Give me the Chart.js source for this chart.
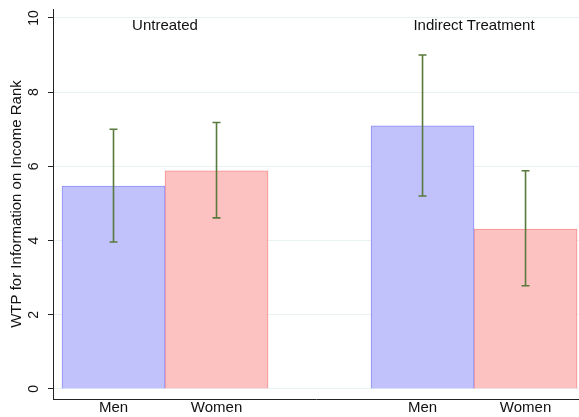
<!DOCTYPE html>
<html>
<head>
<meta charset="utf-8">
<script src="https://cdn.jsdelivr.net/npm/chart.js@4/dist/chart.umd.min.js"></script>
<style>
  html, body { margin: 0; padding: 0; background: #ffffff; }
  #wrap { width: 579px; height: 417px; }
</style>
</head>
<body>
<div id="wrap"><canvas id="c" width="579" height="417"></canvas></div>
<script>
// Groups and the bar slots they occupy on the x axis
const groups = ['Untreated', 'Indirect Treatment'];
const groupCenters = [1.5, 4.5];
const menSlots = [1, 4];
const womenSlots = [2, 5];
const tickLabels = { 1: 'Men', 2: 'Women', 4: 'Men', 5: 'Women' };
const yTicks = [0, 2, 4, 6, 8, 10];

// Mean WTP per group, with confidence interval bounds
const menMeans = [5.47, 7.09];
const menLow = [3.96, 5.20];
const menHigh = [7.00, 9.00];
const womenMeans = [5.88, 4.31];
const womenLow = [4.61, 2.78];
const womenHigh = [7.18, 5.88];

const font = 'Arial, "Liberation Sans", sans-serif';

// Capped interval lines over each bar
const ciPlugin = {
  id: 'ciBars',
  afterDatasetsDraw(chart) {
    const { ctx, scales: { x, y } } = chart;
    const draw = (slots, lows, highs) => {
      slots.forEach((s, i) => {
        const px = x.getPixelForValue(s);
        const y1 = y.getPixelForValue(lows[i]);
        const y2 = y.getPixelForValue(highs[i]);
        ctx.save();
        ctx.strokeStyle = '#587a3c';
        ctx.lineWidth = 1.6;
        ctx.beginPath();
        ctx.moveTo(px, y1); ctx.lineTo(px, y2);
        ctx.moveTo(px - 4, y1); ctx.lineTo(px + 4, y1);
        ctx.moveTo(px - 4, y2); ctx.lineTo(px + 4, y2);
        ctx.stroke();
        ctx.restore();
      });
    };
    draw(menSlots, menLow, menHigh);
    draw(womenSlots, womenLow, womenHigh);
  }
};

// Group names written inside the plot, above each pair of bars
const groupLabelPlugin = {
  id: 'groupLabels',
  afterDraw(chart) {
    const { ctx, chartArea, scales: { x } } = chart;
    ctx.save();
    ctx.fillStyle = '#111111';
    ctx.font = '15px ' + font;
    ctx.textAlign = 'center';
    ctx.textBaseline = 'middle';
    groups.forEach((g, i) => {
      ctx.fillText(g, x.getPixelForValue(groupCenters[i]), chartArea.top + 17);
    });
    ctx.restore();
  }
};

new Chart(document.getElementById('c'), {
  type: 'bar',
  data: {
    datasets: [
      {
        label: 'Men',
        data: menSlots.map((s, i) => ({ x: s, y: menMeans[i] })),
        backgroundColor: 'rgba(193,193,251,1)',
        borderColor: 'rgba(140,140,246,1)',
        borderWidth: 1
      },
      {
        label: 'Women',
        data: womenSlots.map((s, i) => ({ x: s, y: womenMeans[i] })),
        backgroundColor: 'rgba(252,193,193,1)',
        borderColor: 'rgba(246,142,142,1)',
        borderWidth: 1
      }
    ]
  },
  options: {
    responsive: false,
    animation: false,
    grouped: false,
    categoryPercentage: 1,
    barPercentage: 1,
    layout: { padding: { top: 9, right: 0, bottom: 0, left: 0 } },
    plugins: { legend: { display: false }, tooltip: { enabled: false } },
    scales: {
      x: {
        type: 'linear',
        offset: false,
        min: 0.4126,
        max: 5.519,
        afterBuildTicks(scale) {
          scale.ticks = Object.keys(tickLabels).map(v => ({ value: Number(v) }));
        },
        afterFit(scale) {
          scale.height = 18;
          scale.paddingLeft = 0;
          scale.paddingRight = 0;
        },
        grid: { display: false, drawTicks: false },
        border: { display: true, color: '#222222', width: 1 },
        ticks: {
          padding: 0,
          color: '#111111',
          font: { family: font, size: 15 },
          maxRotation: 0,
          autoSkip: false,
          callback: v => tickLabels[v] || ''
        }
      },
      y: {
        min: -0.27,
        max: 10.24,
        afterBuildTicks(scale) {
          scale.ticks = yTicks.map(v => ({ value: v }));
        },
        afterFit(scale) {
          scale.width = 53;
          scale.paddingTop = 0;
          scale.paddingBottom = 0;
        },
        grid: {
          color: '#e9f1f2',
          lineWidth: 1,
          drawTicks: true,
          tickLength: 5,
          tickColor: '#222222'
        },
        border: { display: true, color: '#222222', width: 1 },
        ticks: {
          color: '#111111',
          font: { family: font, size: 14 },
          minRotation: 90,
          maxRotation: 90,
          crossAlign: 'center',
          padding: 6
        },
        title: {
          display: true,
          text: 'WTP for Information on Income Rank',
          color: '#111111',
          font: { family: font, size: 15 },
          padding: { top: 8, bottom: 0 }
        }
      }
    }
  },
  plugins: [ciPlugin, groupLabelPlugin]
});
</script>
</body>
</html>
